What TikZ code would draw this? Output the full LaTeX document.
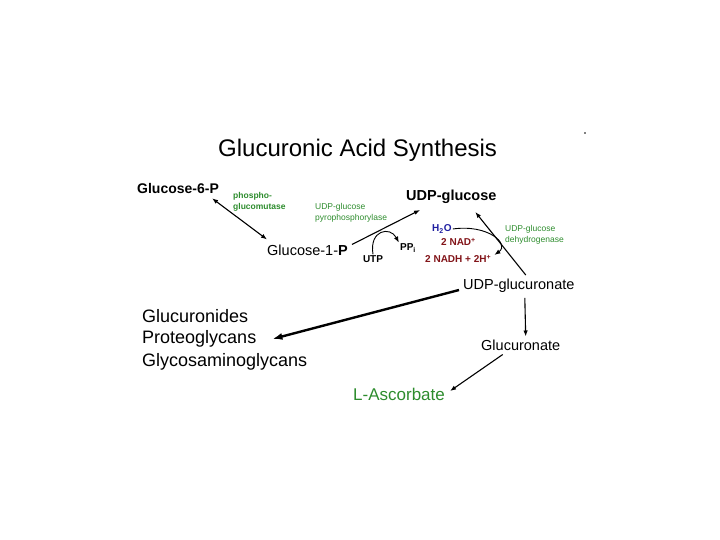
\documentclass[tikz,border=0pt]{standalone}
\usepackage{fontspec}
\setmainfont{Liberation Sans}
\usetikzlibrary{arrows.meta}
\definecolor{enzgreen}{RGB}{45,140,45}
\definecolor{cofred}{RGB}{130,20,25}
\definecolor{cofblue}{RGB}{30,30,160}

\begin{document}
\begin{tikzpicture}[
    x=1pt, y=-1pt,
    met/.style={inner sep=1pt, anchor=west, font=\fontsize{14.5}{17}\selectfont},
    prod/.style={inner sep=1pt, anchor=west, font=\fontsize{18}{21}\selectfont},
    enz/.style={inner sep=0pt, anchor=west, align=left, text=enzgreen,
                font=\fontsize{8.5}{11.5}\selectfont},
    cof/.style={inner sep=1pt, font=\bfseries\fontsize{10}{12}\selectfont},
    >={Latex[length=6pt, width=4.5pt]}
]
\useasboundingbox (0,0) rectangle (720,540);

\node[inner sep=0pt, anchor=west, font=\fontsize{24}{28}\selectfont] (title) at (218,150) {Glucuronic Acid Synthesis};
\fill (585,133) circle (0.8);

% metabolites
\node[met, font=\bfseries\fontsize{14}{17}\selectfont] (g6p) at (136,188) {Glucose-6-P};
\node[met] (g1p)   at (266,250) {Glucose-1-\textbf{P}};
\node[met, font=\bfseries\fontsize{14.5}{17}\selectfont] (udpg) at (405,197) {UDP-glucose};
\node[met] (udpga) at (462,286) {UDP-glucuronate};
\node[met] (glcn)  at (480,345) {Glucuronate};
\node[prod, font=\fontsize{17}{20}\selectfont, text=enzgreen] (lasc) at (352,394) {L-Ascorbate};
\node[prod] (glcd)  at (141,316) {Glucuronides};
\node[prod] (pgly)  at (141,339) {Proteoglycans};
\node[prod] (gagly) at (141,362) {Glycosaminoglycans};

% enzymes
\node[enz, font=\bfseries\fontsize{8.5}{11}\selectfont] (pgm) at (233,202) {phospho-\\glucomutase};
\node[enz] (ugp)  at (315,213) {UDP-glucose\\pyrophosphorylase};
\node[enz] (ugdh) at (505,235) {UDP-glucose\\dehydrogenase};

% cofactors
\node[cof] (utp) at (373,259) {UTP};
\node[cof] (ppi) at (408,248) {PP\textsubscript{i}};
\node[cof, anchor=west, text=cofblue] (h2o) at (431,229) {H\textsubscript{2}O};
\node[cof, anchor=west, text=cofred] (nad) at (440,242) {2 NAD\textsuperscript{+}};
\node[cof, anchor=west, text=cofred] (nadh) at (424,259) {2 NADH + 2H\textsuperscript{+}};

% reactions
\draw[<->, line width=1.1pt] ([xshift=-8pt,yshift=-4pt]g6p.south east) -- ([xshift=1pt,yshift=4pt]g1p.north west);
\draw[->, line width=1.1pt] ([xshift=3pt,yshift=-1pt]g1p.north east) -- ([xshift=15pt,yshift=-5pt]udpg.south west);
\draw[->, line width=0.9pt] (utp.north) .. controls (369,230) and (390,226) .. (ppi.north west);
\draw[->, line width=1.1pt] ([xshift=7pt,yshift=3pt]udpga.north) -- ([xshift=24pt,yshift=-7pt]udpg.south);
\draw[->, line width=0.9pt] (h2o.east) .. controls (488,224) and (510,244) .. ([xshift=2pt,yshift=-1pt]nadh.north east);
\draw[->, line width=2.4pt, >={Latex[length=10pt, width=7pt]}] ([xshift=-3pt,yshift=-4pt]udpga.west) -- ([xshift=15pt]pgly.east);
\draw[->, line width=1.1pt] ([xshift=6pt,yshift=-4pt]udpga.south) -- ([xshift=5pt,yshift=2pt]glcn.north);
\draw[->, line width=1.1pt] ([xshift=-18pt,yshift=-3pt]glcn.south) -- ([xshift=4pt,yshift=3pt]lasc.east);
\end{tikzpicture}
\end{document}
